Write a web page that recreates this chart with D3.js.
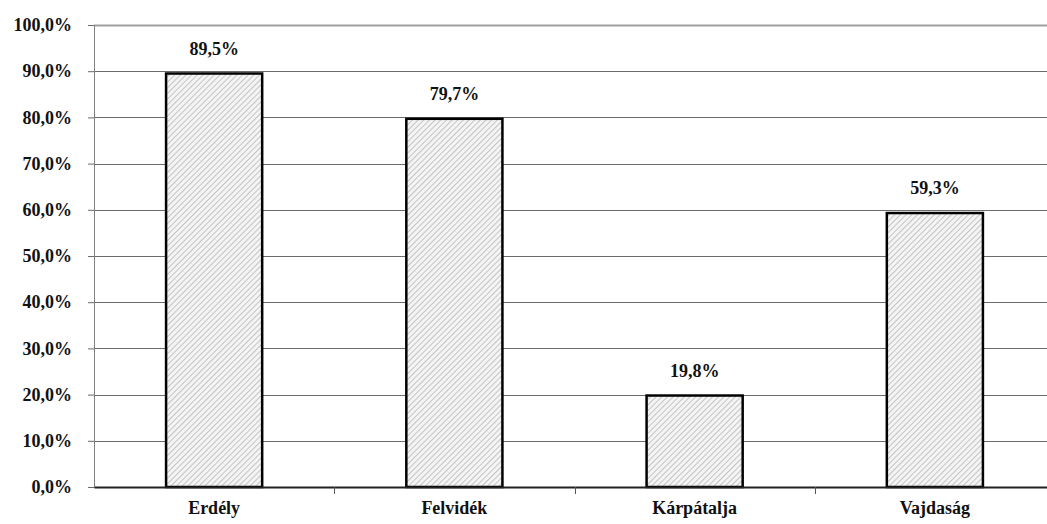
<!DOCTYPE html>
<html><head><meta charset="utf-8">
<script src="https://cdn.jsdelivr.net/npm/d3@7"></script>
<style>body{margin:0;background:#fff}svg{display:block}</style>
</head><body><svg id="c" width="1047" height="524"></svg>
<script>
const categories = ["Erdély","Felvidék","Kárpátalja","Vajdaság"];
const values = [89.5, 79.7, 19.8, 59.3];
const yTicks = [0,10,20,30,40,50,60,70,80,90,100];
const fmt = v => v.toFixed(1).replace(".", ",") + "%";
const FONT = '"Liberation Serif"';

const svg = d3.select("#c");
const x = d3.scaleBand().domain(categories).range([94, 1055]).paddingInner(0.6).paddingOuter(0.3);
const y = d3.scaleLinear().domain([0,100]).range([487, 25]);

const styleText = sel => sel.style("font-family", FONT).style("font-weight","bold")
  .style("font-size","18px").style("fill","#111");

const defs = svg.append("defs");
const pat = defs.append("pattern").attr("id","hatch").attr("patternUnits","userSpaceOnUse")
  .attr("width",4).attr("height",4).attr("patternTransform","rotate(45)");
pat.append("rect").attr("width",4).attr("height",4).attr("fill","#f4f4f4");
pat.append("line").attr("x1",0).attr("y1",0).attr("x2",0).attr("y2",4).attr("stroke","#b0b0b0").attr("stroke-width",1.4);

// gridlines
svg.append("g").selectAll("line").data(yTicks.filter(d=>d>0)).join("line")
  .attr("x1",94).attr("x2",1047).attr("y1",d=>Math.round(y(d))+0.5).attr("y2",d=>Math.round(y(d))+0.5)
  .attr("stroke",d=>d===100?"#a0a0a0":"#6b6b6b").attr("stroke-width",d=>d===100?2:1);

// y axis
const ya = svg.append("g").attr("transform","translate(94,0)")
  .call(d3.axisLeft(y).tickValues(yTicks).tickFormat(fmt).tickSize(6).tickPadding(16));
ya.attr("font-family", null).attr("font-size", null);
ya.select(".domain").attr("stroke","#808080");
ya.selectAll(".tick line").attr("stroke","#6b6b6b");
styleText(ya.selectAll("text"));

// bars
svg.append("g").selectAll("rect").data(values).join("rect")
  .attr("x",(d,i)=>x(categories[i])).attr("width",x.bandwidth())
  .attr("y",d=>y(d)).attr("height",d=>y(0)-y(d))
  .attr("fill","url(#hatch)").attr("stroke","#000").attr("stroke-width",2.5);

// x axis
const xa = svg.append("g").attr("transform","translate(0,487)")
  .call(d3.axisBottom(x).tickSize(0).tickPadding(14));
xa.attr("font-family", null).attr("font-size", null);
xa.select(".domain").attr("stroke","#222").attr("stroke-width",2);
styleText(xa.selectAll("text"));
const bounds = [1,2,3].map(i => 94 + i*(1055-94)/4);
svg.append("g").selectAll("line").data(bounds).join("line")
  .attr("x1",d=>Math.round(d)+0.5).attr("x2",d=>Math.round(d)+0.5).attr("y1",487).attr("y2",494)
  .attr("stroke","#555");

// value labels
styleText(svg.append("g").selectAll("text").data(values).join("text")
  .attr("x",(d,i)=>x(categories[i])+x.bandwidth()/2).attr("y",d=>y(d)-19)
  .attr("text-anchor","middle")
  .text(fmt));
</script></body></html>
